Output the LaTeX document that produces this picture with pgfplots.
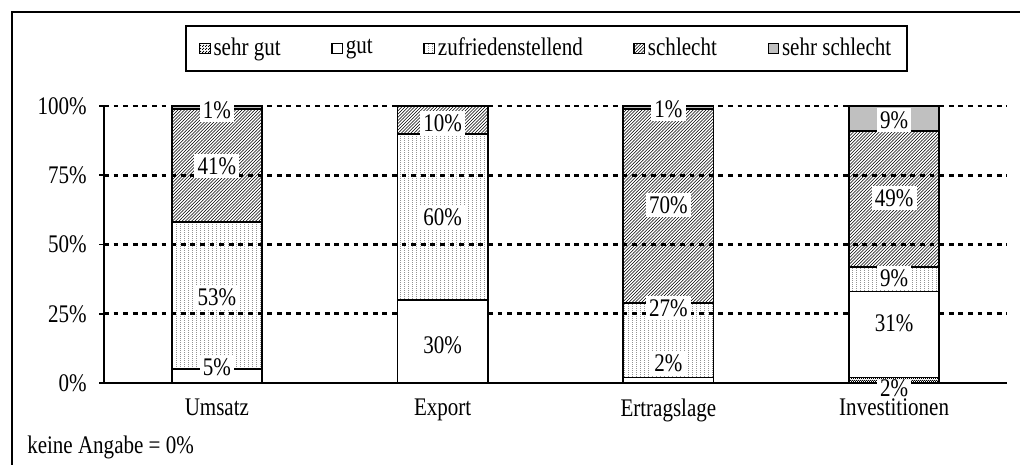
\documentclass[border=0pt]{standalone}
\usepackage{fontspec}
\setmainfont{Liberation Serif}[FakeStretch=0.83]
\usepackage{pgfplots}
\usepackage{pgfplotstable}
\pgfplotsset{compat=1.18}
\usetikzlibrary{patterns}
\pgfdeclarepatternformonly{denseNE}{\pgfqpoint{-1pt}{-1pt}}{\pgfqpoint{3.4pt}{3.4pt}}{\pgfqpoint{2.4pt}{2.4pt}}{\pgfsetlinewidth{0.38pt}\pgfpathmoveto{\pgfqpoint{0pt}{0pt}}\pgfpathlineto{\pgfqpoint{2.5pt}{2.5pt}}\pgfusepath{stroke}}
\pgfdeclarepatternformonly{sparsedots}{\pgfqpoint{0pt}{0pt}}{\pgfqpoint{3pt}{1.6pt}}{\pgfqpoint{3pt}{1.6pt}}{\pgfpathrectangle{\pgfqpoint{0pt}{0pt}}{\pgfqpoint{0.55pt}{0.55pt}}\pgfusepath{fill}}
\pgfdeclarepatternformonly{densecross}{\pgfqpoint{0pt}{0pt}}{\pgfqpoint{1.8pt}{1.8pt}}{\pgfqpoint{1.8pt}{1.8pt}}{\pgfpathrectangle{\pgfqpoint{0pt}{0pt}}{\pgfqpoint{0.9pt}{0.9pt}}\pgfpathrectangle{\pgfqpoint{0.9pt}{0.9pt}}{\pgfqpoint{0.9pt}{0.9pt}}\pgfusepath{fill}}
\definecolor{sgray}{RGB}{192,192,192}

\pgfplotstableread{
x sg g z s ss
0 0 5 53 41 1
1 0 30 60 10 0
2 0 2 27 70 1
3 2 31 9 49 9
}\bartab

\pgfplotstableread{
x y v
0 98.6 1\%
0 78.3 41\%
0 31.0 53\%
0 5.8 5\%
1 93.9 10\%
1 59.9 60\%
1 13.7 30\%
2 98.9 1\%
2 64.3 70\%
2 27.1 27\%
2 7.2 2\%
3 94.9 9\%
3 66.8 49\%
3 37.9 9\%
3 21.7 31\%
}\labeltab

\pgfplotstableread{
x y v
3 -2.0 2\%
}\lowlabeltab

\begin{document}
\fontsize{19}{22}\selectfont
\begin{tikzpicture}[x=0.75pt,y=0.75pt]
\useasboundingbox (0,0) rectangle (1020,464);
\draw[line width=1.5pt] (12,-5) -- (12,452) -- (1025,452);
\node[anchor=west, inner sep=0pt] at (27,17) {keine Angabe = 0\%};
\begin{axis}[
  at={(78pt,60.75pt)}, anchor=south west,
  width=677.25pt, height=207.75pt, scale only axis,
  clip=false,
  ybar stacked, bar width=0.4,
  xmin=-0.5, xmax=3.5, ymin=0, ymax=100,
  enlargelimits=false,
  xtick={0,1,2,3}, xticklabels={Umsatz,Export,Ertragslage,Investitionen},
  major x tick style={draw=none},
  extra x ticks={-0.5,0.5,1.5,2.5,3.5},
  extra x tick labels={},
  extra x tick style={tick align=outside, major tick length=5pt, tick style={black, line width=1.2pt}},
  xticklabel style={yshift=-7pt, inner ysep=1pt},
  ytick={0,25,50,75,100},
  yticklabel={\pgfmathprintnumber{\tick}\%},
  yticklabel style={xshift=-3pt},
  /pgf/number format/assume math mode=true,
  axis x line*=bottom, axis y line*=left,
  axis line style={line width=1.3pt, -},
  ytick style={black, line width=1.3pt},
  tick align=center, major tick length=7pt,
  ymajorgrids,
  major grid style={black, line width=2pt, dash pattern=on 3.6pt off 3.6pt},
  every axis plot/.append style={draw=black, line width=1.3pt},
  every axis plot post/.append style={legend image code/.code={\draw[##1, line width=0.9pt] (0pt,-4pt) rectangle (8pt,4pt);}},
  legend columns=5,
  legend cell align=left,
  legend style={at={(0.490,1.2076)}, anchor=center, draw=black, line width=1.3pt,
    /tikz/every even column/.append style={column sep=36pt},
    inner xsep=10pt, inner ysep=7pt},
]
\addplot[pattern=densecross] table[x=x,y=sg]{\bartab};
\addplot[fill=white] table[x=x,y=g]{\bartab};
\addplot[pattern=sparsedots] table[x=x,y=z]{\bartab};
\addplot[pattern=denseNE] table[x=x,y=s]{\bartab};
\addplot[fill=sgray] table[x=x,y=ss]{\bartab};
\legend{sehr gut,gut,zufriedenstellend,schlecht,sehr schlecht}
\end{axis}
\begin{axis}[
  at={(78pt,60.75pt)}, anchor=south west,
  width=677.25pt, height=207.75pt, scale only axis,
  xmin=-0.5, xmax=3.5, ymin=0, ymax=100,
  hide axis, clip=false,
]
\addplot[draw=none, nodes near coords, point meta=explicit symbolic,
  every node near coord/.append style={anchor=center, fill=white, inner xsep=2.5pt, inner ysep=2.5pt, text=black}]
  table[x=x,y=y,meta=v]{\labeltab};
\addplot[draw=none, nodes near coords, point meta=explicit symbolic,
  every node near coord/.append style={anchor=center, fill=white, inner xsep=2.5pt, inner ysep=0pt, text=black}]
  table[x=x,y=y,meta=v]{\lowlabeltab};
\end{axis}
\end{tikzpicture}
\end{document}
